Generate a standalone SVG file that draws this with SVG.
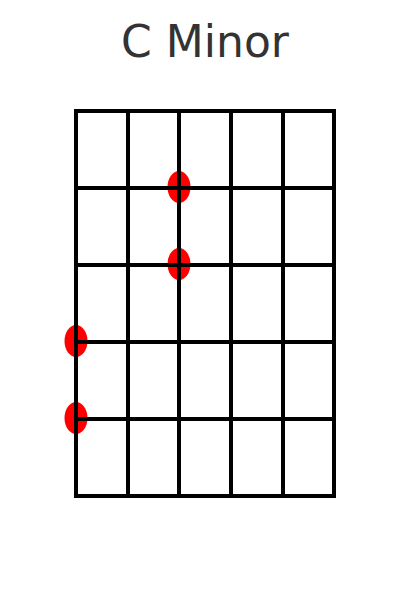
<svg xmlns="http://www.w3.org/2000/svg" width="400" height="600" viewBox="0 0 400 600">
<style>
.title{font-family:"DejaVu Sans",sans-serif;font-size:44px;fill:#333;text-anchor:middle}
.dot{fill:#ff0000}
.g{stroke:#000;stroke-width:4;fill:none;stroke-linecap:square}
</style>
<rect width="400" height="600" fill="#fff"/>
<text class="title" x="205" y="57">C Minor</text>
<g id="dots">
<ellipse id="dot1" class="dot" cx="179" cy="187" rx="11.5" ry="16"/>
<ellipse id="dot2" class="dot" cx="179" cy="264" rx="11.5" ry="16"/>
<ellipse id="dot3" class="dot" cx="76" cy="341" rx="11.5" ry="16"/>
<ellipse id="dot4" class="dot" cx="76" cy="418" rx="11.5" ry="16"/>
</g>
<g id="grid" class="g">
<rect x="76" y="111" width="258" height="385"/>
<line x1="128" y1="111" x2="128" y2="496"/>
<line x1="179" y1="111" x2="179" y2="496"/>
<line x1="231" y1="111" x2="231" y2="496"/>
<line x1="283" y1="111" x2="283" y2="496"/>
<line x1="76" y1="188" x2="334" y2="188"/>
<line x1="76" y1="265" x2="334" y2="265"/>
<line x1="76" y1="342" x2="334" y2="342"/>
<line x1="76" y1="419" x2="334" y2="419"/>
</g>
</svg>
